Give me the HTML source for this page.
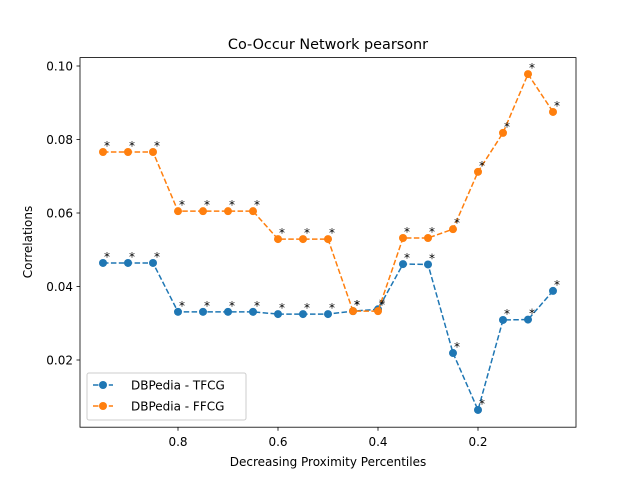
<!DOCTYPE html>
<html><head><meta charset="utf-8"><style>
body{margin:0;background:#fff;font-family:"Liberation Sans","DejaVu Sans",sans-serif;}
</style></head><body>
<svg id="chart" width="640" height="480" xmlns="http://www.w3.org/2000/svg" font-family="DejaVu Sans, Liberation Sans, sans-serif">
<rect width="640" height="480" fill="#fff"/>
<text x="328" y="49" font-size="14.4" text-anchor="middle">Co-Occur Network pearsonr</text>
<g id="marks"></g>
<rect x="80" y="57.6" width="496" height="369.6" fill="none" stroke="#000" stroke-width="0.8"/>
<g id="axes" font-size="12"></g>
<text x="328" y="466" font-size="12" text-anchor="middle">Decreasing Proximity Percentiles</text>
<text transform="translate(32,242) rotate(-90)" font-size="12" text-anchor="middle">Correlations</text>
<g>
<rect x="87" y="373" width="159" height="47" fill="#fff" fill-opacity="0.8" stroke="#ccc" rx="2"/>
<g><line x1="93" y1="385" x2="113" y2="385" stroke="#1f77b4" stroke-width="1.5" stroke-dasharray="5.5,2.4"/><circle cx="103" cy="385" r="4" fill="#1f77b4"/><text x="131" y="389.5" font-size="12">DBPedia - TFCG</text></g>
<g><line x1="93" y1="406" x2="113" y2="406" stroke="#ff7f0e" stroke-width="1.5" stroke-dasharray="5.5,2.4"/><circle cx="103" cy="406" r="4" fill="#ff7f0e"/><text x="131" y="410.5" font-size="12">DBPedia - FFCG</text></g>
</g>
</svg>
<script>
const percentiles=[0.95,0.9,0.85,0.8,0.75,0.7,0.65,0.6,0.55,0.5,0.45,0.4,0.35,0.3,0.25,0.2,0.15,0.1,0.05];
const tfcg=[0.0464,0.0464,0.0464,0.0331,0.0331,0.0331,0.0331,0.0325,0.0325,0.0325,0.0333,0.0338,0.0461,0.046,0.0219,0.0064,0.0309,0.031,0.0388];
const ffcg=[0.0766,0.0766,0.0766,0.0605,0.0605,0.0605,0.0605,0.0529,0.0529,0.0529,0.0333,0.0333,0.0532,0.0532,0.0556,0.0712,0.0818,0.0978,0.0875];
const xTicks=[0.8,0.6,0.4,0.2];
const yTicks=[0.02,0.04,0.06,0.08,0.10];
const NS="http://www.w3.org/2000/svg";
function X(v){return 178+(0.8-v)*500;}
function Y(v){return 360-(v-0.02)*3675;}
const marks=document.getElementById('marks'),axes=document.getElementById('axes');
function mk(t,a,p){const e=document.createElementNS(NS,t);for(const k in a)e.setAttribute(k,a[k]);p.appendChild(e);return e;}
xTicks.forEach(v=>{const g=mk('g',{},axes);


mk('line',{x1:X(v),x2:X(v),y1:427.2,y2:430.7,stroke:'#000','stroke-width':0.8},g);
const t=mk('text',{x:X(v),y:446,'text-anchor':'middle'},g);t.textContent=v.toFixed(1);});
yTicks.forEach(v=>{const g=mk('g',{},axes);


mk('line',{x1:76.5,x2:80,y1:Y(v),y2:Y(v),stroke:'#000','stroke-width':0.8},g);
const t=mk('text',{x:73,y:Y(v)+4.5,'text-anchor':'end'},g);t.textContent=v.toFixed(2);});
function series(vals,color,name){
const g=mk('g',{},marks);


mk('polyline',{points:vals.map((v,i)=>X(percentiles[i])+','+Y(v)).join(' '),fill:'none',stroke:color,'stroke-width':1.5,'stroke-dasharray':'5.5,2.4'},g);
vals.forEach((v,i)=>{const c=mk('circle',{cx:X(percentiles[i]),cy:Y(v),r:4,fill:color},g);


const t=mk('text',{x:X(percentiles[i])+1,y:Y(v)-2,'font-size':12},g);t.textContent='*';});}
series(tfcg,'#1f77b4','series-tfcg');
series(ffcg,'#ff7f0e','series-ffcg');
</script>
</body></html>
